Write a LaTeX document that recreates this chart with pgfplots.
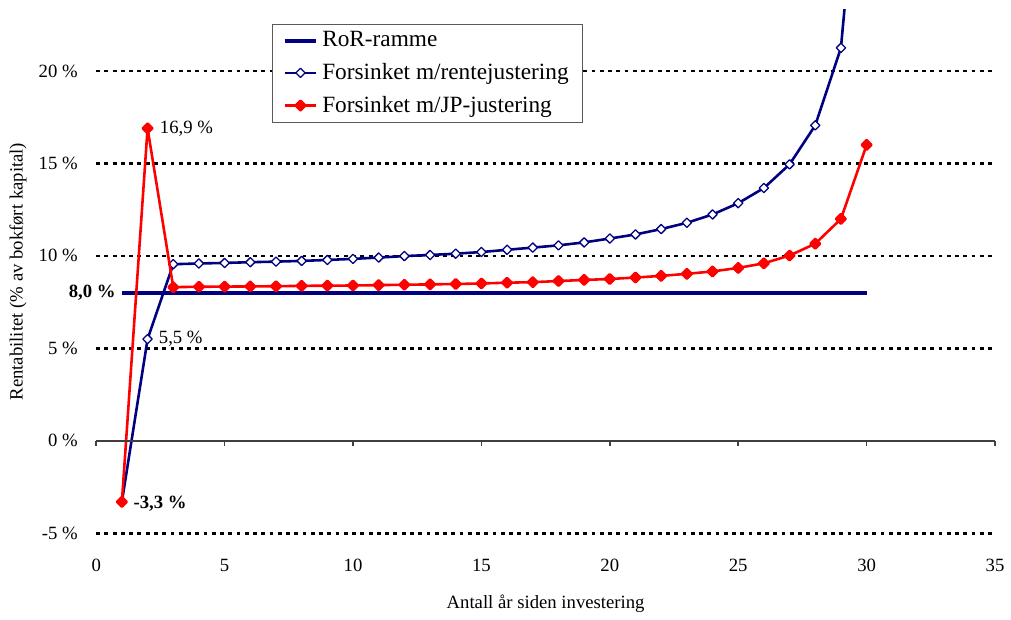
\documentclass[border=0pt]{standalone}
\usepackage{fontspec}
\setmainfont{Liberation Serif}
\usepackage{pgfplots}
\pgfplotsset{compat=1.18}

\definecolor{navy}{HTML}{000080}
\definecolor{rod}{HTML}{FF0000}
\definecolor{aks}{HTML}{404040}

% Rentabilitet per år, forsinket avskrivning
\pgfplotstableread{
aar rente jp
1  -3.3  -3.3
2   5.5  16.9
3   9.55  8.31
4   9.59  8.33
5   9.62  8.34
6   9.66  8.35
7   9.69  8.36
8   9.73  8.38
9   9.78  8.39
10  9.84  8.40
11  9.91  8.42
12  9.99  8.44
13 10.05  8.46
14 10.12  8.48
15 10.21  8.51
16 10.33  8.55
17 10.45  8.58
18 10.57  8.64
19 10.73  8.70
20 10.94  8.75
21 11.16  8.83
22 11.45  8.92
23 11.79  9.03
24 12.24  9.16
25 12.85  9.35
26 13.67  9.60
27 14.95 10.02
28 17.06 10.66
29 21.25 12.00
30 36.50 16.00
}\rentab

\begin{document}
\begin{tikzpicture}
\begin{axis}[
    name=ax,
    scale only axis,
    width=451.7pt, height=263pt,
    xmin=0, xmax=35, ymin=-5, ymax=23.3,
    clip mode=individual,
    axis line style={draw=none},
    tick style={draw=none},
    xtick={0,5,...,35},
    ytick={-5,5,10,15,20},
    yticklabels={-5 \%,5 \%,10 \%,15 \%,20 \%},
    extra y ticks={0},
    extra y tick labels={0 \%},
    extra y tick style={grid=none},
    ymajorgrids,
    major grid style={black, line width=1.25pt, dash pattern=on 1.9pt off 2.25pt},
    /pgf/number format/assume math mode=true,
    tick label style={font=\fontsize{9.4}{11}\selectfont},
    xticklabel style={yshift=-9.5pt},
    yticklabel style={xshift=-5.8pt},
    label style={font=\fontsize{9.4}{11}\selectfont},
    xlabel={Antall år siden investering},
    xlabel style={at={(rel axis cs:0.5,0)}, anchor=center, yshift=-35.5pt},
    ylabel={Rentabilitet (\% av bokført kapital)},
    ylabel style={at={(rel axis cs:0,0.5)}, anchor=center, yshift=39.3pt},
    legend style={at={(axis cs:6.85,22.54)}, anchor=north west,
        draw=gray!70!black, line width=0.6pt,
        font=\fontsize{11.7}{13.5}\selectfont,
        inner xsep=5pt, inner ysep=1.5pt, row sep=2.8pt,
        cells={anchor=west}},
    legend image code/.code={
        \draw[mark repeat=2, mark phase=2, #1] plot coordinates {(0pt,0pt) (8pt,0pt) (16pt,0pt)};},
]
\addplot[navy, line width=1.9pt] coordinates {(1,8.0) (30,8.0)};
\addlegendentry{RoR-ramme}

\addplot[navy, line width=1.3pt, line join=round, mark=square*, mark size=1.65pt,
    mark options={rotate=45, fill=white, draw=navy, line width=0.65pt}]
    table[x=aar, y=rente] {\rentab};
\addlegendentry{Forsinket m/rentejustering}

\addplot[rod, line width=1.3pt, line join=round, mark=square*, mark size=1.7pt,
    mark options={rotate=45, fill=rod, draw=rod}]
    table[x=aar, y=jp] {\rentab};
\addlegendentry{Forsinket m/JP-justering}

\draw[aks, line width=0.85pt] (axis cs:0,0) -- (axis cs:35,0);
\pgfplotsinvokeforeach{0,5,...,35}{
    \draw[aks, line width=0.85pt] (axis cs:#1,0) -- ++(0pt,-2.85pt);
}

\node[anchor=west, inner sep=0pt, font=\fontsize{9.4}{11}\selectfont]
    at (axis cs:2,16.9) [xshift=6pt] {16,9 \%};
\node[anchor=west, inner sep=0pt, font=\fontsize{9.4}{11}\selectfont]
    at (axis cs:2,5.5) [xshift=5.5pt] {5,5 \%};
\node[anchor=west, inner sep=0pt, font=\bfseries\fontsize{9.4}{11}\selectfont]
    at (axis cs:1,-3.3) [xshift=5.7pt, yshift=-1pt] {-3,3 \%};
\node[anchor=east, inner sep=0pt, font=\bfseries\fontsize{9.4}{11}\selectfont]
    at (axis cs:1,8.0) [xshift=-3pt] {8,0 \%};
\end{axis}
\path ([xshift=-48.35pt,yshift=-38.5pt]ax.south west)
    rectangle ([xshift=5.5pt,yshift=5pt]ax.north east);
\end{tikzpicture}
\end{document}
